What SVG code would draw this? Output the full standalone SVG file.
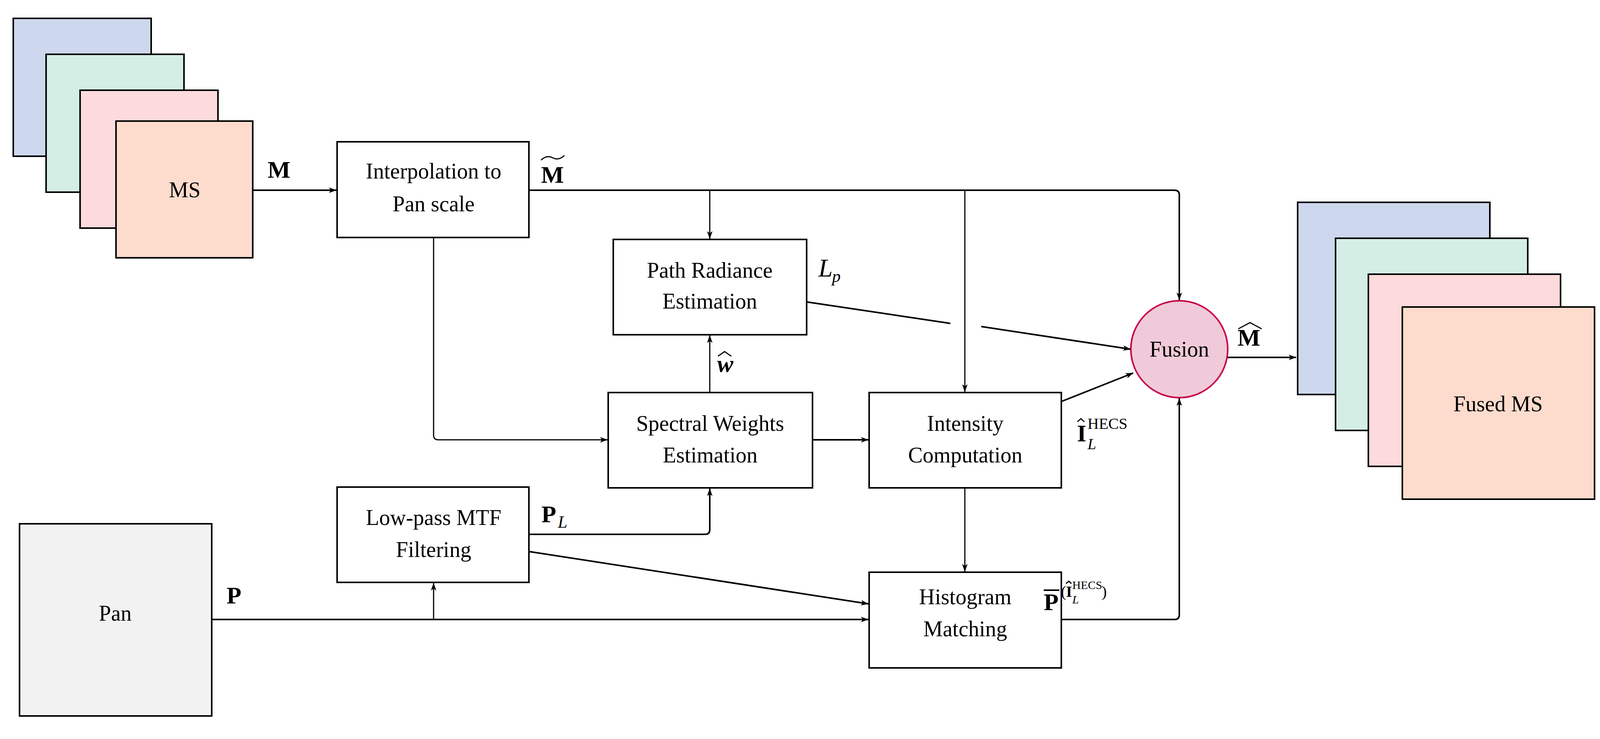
<svg xmlns="http://www.w3.org/2000/svg" width="4124" height="1892" viewBox="0 0 4124 1892">
<style>
.box{fill:#fff;stroke:#000;stroke-width:4}
.t{font-family:"Liberation Serif","DejaVu Serif",serif;font-size:56px;text-anchor:middle;fill:#000}
.s{font-family:"Liberation Serif","DejaVu Serif",serif;fill:#000}
.m{font-family:"Liberation Serif","DejaVu Serif",serif;font-size:62px;font-weight:bold;fill:#000}
.c{fill:none;stroke:#000;stroke-width:4}
.c2{fill:none;stroke:#000;stroke-width:3}
.h{fill:none;stroke:#000;stroke-width:3}
</style>
<defs>
<marker id="a" viewBox="0 0 20 14" refX="19" refY="7" markerWidth="20" markerHeight="14" markerUnits="userSpaceOnUse" orient="auto"><path d="M0,0 L20,7 L0,14 L5,7 Z" fill="#000"/></marker>
</defs>
<g id="ms">
<rect x="34" y="47" width="353" height="353" fill="#cdd7ee" stroke="#000" stroke-width="4"/>
<rect x="118" y="139" width="353" height="353" fill="#d4eee6" stroke="#000" stroke-width="4"/>
<rect x="205" y="231" width="353" height="353" fill="#fddadb" stroke="#000" stroke-width="4"/>
<rect x="297" y="310" width="350" height="350" fill="#fddccd" stroke="#000" stroke-width="4"/>
<text class="t" x="473" y="505">MS</text>
</g>
<g id="interp"><rect class="box" x="863" y="363" width="491" height="245"/>
<text class="t" x="1110" y="457">Interpolation to</text><text class="t" x="1110" y="541">Pan scale</text></g>
<g id="path"><rect class="box" x="1570" y="613" width="495" height="244"/>
<text class="t" x="1817" y="711">Path Radiance</text><text class="t" x="1817" y="790">Estimation</text></g>
<g id="spectral"><rect class="box" x="1557" y="1005" width="523" height="244"/>
<text class="t" x="1818" y="1103">Spectral Weights</text><text class="t" x="1818" y="1184">Estimation</text></g>
<g id="intensity"><rect class="box" x="2225" y="1005" width="492" height="244"/>
<text class="t" x="2471" y="1103">Intensity</text><text class="t" x="2471" y="1184">Computation</text></g>
<g id="lowpass"><rect class="box" x="863" y="1247" width="491" height="244"/>
<text class="t" x="1110" y="1344">Low-pass MTF</text><text class="t" x="1110" y="1426">Filtering</text></g>
<g id="hist"><rect class="box" x="2225" y="1465" width="492" height="245"/>
<text class="t" x="2471" y="1547">Histogram</text><text class="t" x="2471" y="1629">Matching</text></g>
<g id="pan"><rect x="50" y="1341" width="492" height="492" fill="#f2f2f2" stroke="#000" stroke-width="4"/>
<text class="t" x="295" y="1589">Pan</text></g>
<g id="fusion"><circle cx="3019" cy="894" r="124" fill="#f0cad8" stroke="#c8004b" stroke-width="4"/>
<text class="t" x="3019" y="913">Fusion</text></g>
<g id="fused">
<rect x="3322" y="518" width="492" height="492" fill="#cdd7ee" stroke="#000" stroke-width="4"/>
<rect x="3419" y="610" width="492" height="492" fill="#d4eee6" stroke="#000" stroke-width="4"/>
<rect x="3503" y="702" width="492" height="492" fill="#fddadb" stroke="#000" stroke-width="4"/>
<rect x="3590" y="786" width="492" height="492" fill="#fddccd" stroke="#000" stroke-width="4"/>
<text class="t" x="3835" y="1053">Fused MS</text>
</g>
<g id="connectors">
<path class="c" d="M647,487 H861" marker-end="url(#a)"/>
<path class="c" d="M1354,487 H3007 Q3019,487 3019,499 V768" marker-end="url(#a)"/>
<path class="c2" d="M1817,487 V611" marker-end="url(#a)"/>
<path class="c2" d="M2470,487 V1003" marker-end="url(#a)"/>
<path class="c" d="M2065,773 L2433,828"/>
<path class="c" d="M2512,836 L2894,894" marker-end="url(#a)"/>
<path class="c2" d="M1817,1005 V859" marker-end="url(#a)"/>
<path class="c2" d="M1110,608 V1114 Q1110,1126 1122,1126 H1555" marker-end="url(#a)"/>
<path class="c" d="M2080,1126 H2223" marker-end="url(#a)"/>
<path class="c" d="M2717,1028 L2901,955" marker-end="url(#a)"/>
<path class="c2" d="M2470,1249 V1463" marker-end="url(#a)"/>
<path class="c" d="M1354,1368 H1805 Q1817,1368 1817,1356 V1251" marker-end="url(#a)"/>
<path class="c" d="M1354,1412 L2223,1546" marker-end="url(#a)"/>
<path class="c" d="M542,1586 H2223" marker-end="url(#a)"/>
<path class="c2" d="M1110,1586 V1493" marker-end="url(#a)"/>
<path class="c" d="M2717,1586 H3007 Q3019,1586 3019,1574 V1020" marker-end="url(#a)"/>
<path class="c" d="M3143,915 H3318" marker-end="url(#a)"/>
</g>
<g id="labels">
<text class="m" x="685" y="455">M</text>
<text class="m" x="1385" y="468">M</text><path class="h" d="M1385,410 Q1400,396 1415,404 T1445,398"/>
<text class="m" x="3168" y="885">M</text><path class="h" d="M3170,842 L3200,826 L3230,842"/>
<text class="s" x="2095" y="708" font-size="66" font-style="italic">L</text><text class="s" x="2130" y="722" font-size="44" font-style="italic">p</text>
<text class="m" x="1836" y="952" font-style="italic">w</text><path class="h" d="M1838,912 L1855,900 L1872,912"/>
<text class="m" x="2757" y="1130">I</text><path class="h" d="M2758,1080 L2767,1072 L2776,1080"/>
<text class="s" x="2784" y="1098" font-size="40">HECS</text>
<text class="s" x="2784" y="1150" font-size="40" font-style="italic">L</text>
<text class="m" x="1386" y="1337">P</text><text class="s" x="1428" y="1351" font-size="44" font-style="italic">L</text>
<text class="m" x="580" y="1545">P</text>
<text class="m" x="2672" y="1562">P</text><path d="M2672,1511 H2712" stroke="#000" stroke-width="4"/>
<text class="s" x="2716" y="1528" font-size="40">(</text>
<text class="s" x="2729" y="1528" font-size="40" font-weight="bold">I</text><path class="h" d="M2729,1494 L2736,1488 L2743,1494"/>
<text class="s" x="2745" y="1508" font-size="30">HECS</text>
<text class="s" x="2745" y="1545" font-size="30" font-style="italic">L</text>
<text class="s" x="2820" y="1528" font-size="40">)</text>
</g>
</svg>
